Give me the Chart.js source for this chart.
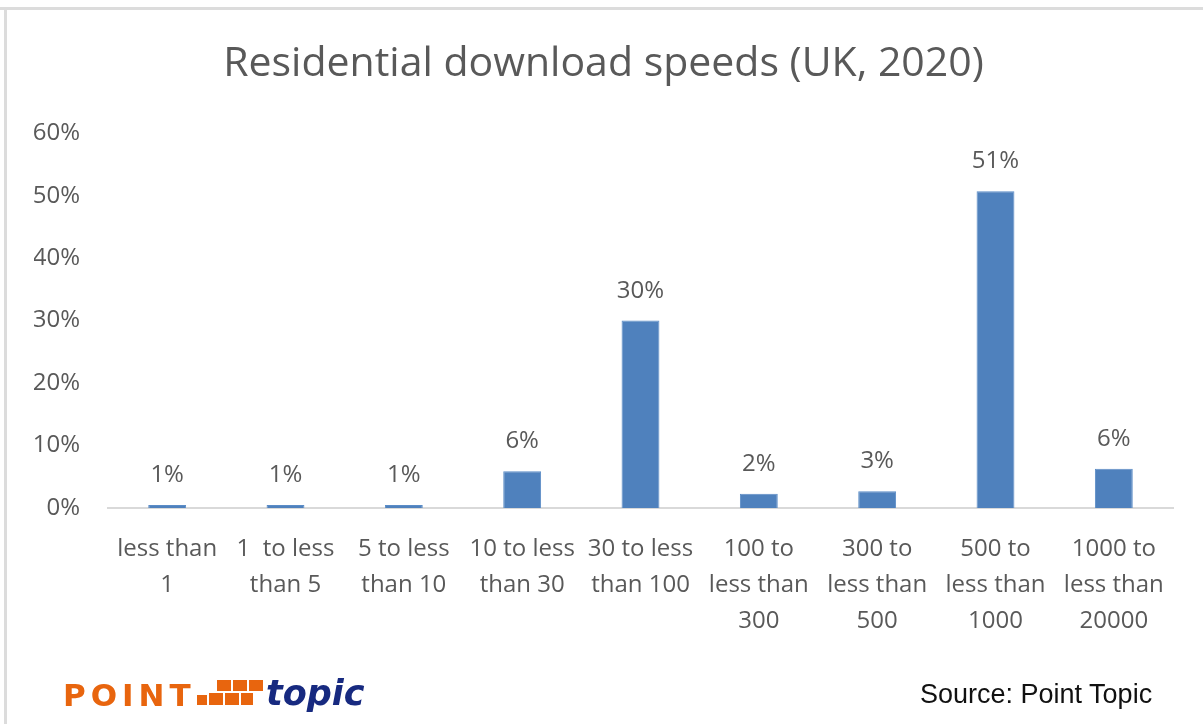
<!DOCTYPE html>
<html>
<head>
<meta charset="utf-8">
<script src="https://cdn.jsdelivr.net/npm/chart.js@4"></script>
<style>
  html, body { margin: 0; padding: 0; background: #fff; }
  #wrap { position: relative; width: 1203px; height: 724px; overflow: hidden; }
  #frameTop { position: absolute; left: 0; top: 7px; width: 1203px; height: 3px; background: #dcdcdc; }
  #frameLeft { position: absolute; left: 4px; top: 7px; width: 3px; height: 717px; background: #dcdcdc; }
  #chartBox { position: absolute; left: 0; top: 0; width: 1203px; height: 724px; }
  .logo { position: absolute; line-height: 1; white-space: nowrap; }
  #point { left: 63px; top: 677px; font: bold 31px "DejaVu Sans", sans-serif; color: #e8650e; letter-spacing: 5px; }
  #blocks { left: 197px; top: 680px; width: 66px; height: 26px; }
  #blocks i { position: absolute; background: #e8650e; }
  #topic { left: 266px; top: 673px; font: italic bold 35px "DejaVu Sans", sans-serif; color: #172a80; }
  #source { position: absolute; left: 920px; top: 680px; font: 27px "Liberation Sans", Arial, sans-serif; color: #111; line-height: 1.1; white-space: nowrap; }
</style>
</head>
<body>
<div id="wrap">
  <div id="frameTop"></div>
  <div id="frameLeft"></div>
  <div id="chartBox"><canvas id="speedChart" width="1203" height="724"></canvas></div>
  <div class="logo" id="point">POINT</div>
  <div class="logo" id="blocks">
    <i style="left:0px;top:15px;width:10px;height:10px"></i>
    <i style="left:12px;top:13px;width:14px;height:12px"></i>
    <i style="left:28px;top:13px;width:14px;height:12px"></i>
    <i style="left:44px;top:13px;width:12px;height:12px"></i>
    <i style="left:20px;top:0px;width:14px;height:11px"></i>
    <i style="left:36px;top:0px;width:14px;height:11px"></i>
    <i style="left:52px;top:0px;width:14px;height:11px"></i>
  </div>
  <div class="logo" id="topic">topic</div>
  <div id="source">Source: Point Topic</div>
</div>
<script>
// speed bands (Mbit/s), one array of lines per tick
const categories = [
  ["less than", "1"],
  ["1  to less", "than 5"],
  ["5 to less", "than 10"],
  ["10 to less", "than 30"],
  ["30 to less", "than 100"],
  ["100 to", "less than", "300"],
  ["300 to", "less than", "500"],
  ["500 to", "less than", "1000"],
  ["1000 to", "less than", "20000"]
];

// share of residential lines, %
const shares = [0.5, 0.5, 0.5, 5.9, 30.0, 2.3, 2.7, 50.7, 6.3];
const shareLabels = ["1%", "1%", "1%", "6%", "30%", "2%", "3%", "51%", "6%"];
const yTicks = [0, 10, 20, 30, 40, 50, 60];

const FONT = "'Open Sans', Lato, sans-serif";
const GREY = "#595959";

// value labels above the bars
const barLabels = {
  id: "barLabels",
  afterDatasetsDraw(chart) {
    const ctx = chart.ctx;
    const meta = chart.getDatasetMeta(0);
    ctx.save();
    ctx.font = "24px " + FONT;
    ctx.fillStyle = GREY;
    ctx.textAlign = "center";
    ctx.textBaseline = "alphabetic";
    meta.data.forEach((bar, i) => {
      ctx.fillText(shareLabels[i], bar.x, bar.y - 23);
    });
    ctx.restore();
  }
};

new Chart(document.getElementById("speedChart"), {
  type: "bar",
  data: {
    labels: categories,
    datasets: [{
      data: shares,
      backgroundColor: "#4f81bd",
      borderColor: "#5b8cc6",
      borderWidth: 1,
      categoryPercentage: 1,
      barPercentage: 0.32
    }]
  },
  options: {
    responsive: false,
    animation: false,
    devicePixelRatio: 1,
    layout: { padding: { left: 34, right: 30, top: 0, bottom: 62 } },
    plugins: {
      legend: { display: false },
      tooltip: { enabled: false },
      title: {
        display: true,
        text: "Residential download speeds (UK, 2020)",
        color: GREY,
        font: { family: FONT, size: 41, weight: "normal" },
        padding: { top: 40, bottom: 44 }
      }
    },
    scales: {
      x: {
        afterFit(axis) {
          axis.paddingLeft = 0;
          axis.paddingRight = 0;
        },
        grid: { display: false, drawTicks: false },
        border: { display: true, color: "#d9d9d9", width: 2 },
        ticks: {
          color: GREY,
          font: { family: FONT, size: 24, lineHeight: 1.5 },
          maxRotation: 0,
          autoSkip: false,
          padding: 23
        }
      },
      y: {
        min: 0,
        max: 60,
        afterBuildTicks(axis) {
          axis.ticks = yTicks.map(v => ({ value: v }));
        },
        afterFit(axis) {
          axis.width = 74;
        },
        grid: { display: false, drawTicks: false },
        border: { display: false },
        ticks: {
          color: GREY,
          font: { family: FONT, size: 24 },
          padding: 28,
          callback: v => v + "%"
        }
      }
    }
  },
  plugins: [barLabels]
});
</script>
</body>
</html>
